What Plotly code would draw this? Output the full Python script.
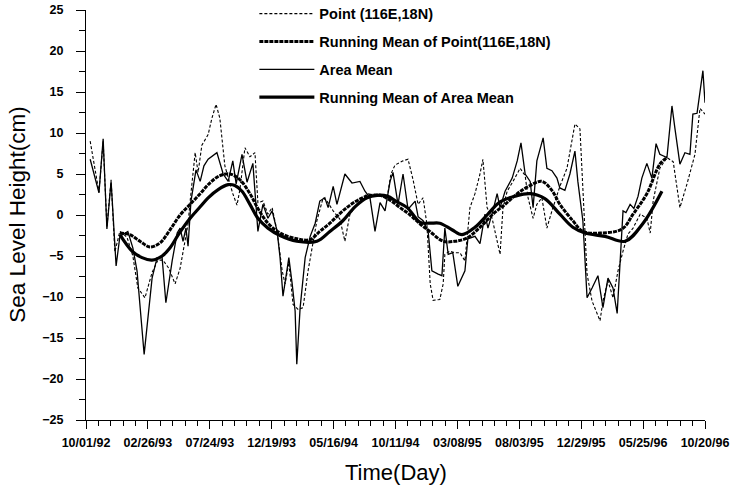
import pandas as pd
import plotly.graph_objects as go

# ---- data (days after 10/01/92, values in cm) ----
point_days = [10, 31, 41, 50, 60, 69, 81, 98, 112, 124, 141, 158, 172, 184, 198, 213, 225, 237, 244, 249,
              261, 268, 277, 292, 301, 311, 320, 332, 340, 351, 361, 368, 380, 392, 404, 411, 423, 435, 445, 457,
              469, 476, 485, 495, 507, 519, 531, 543, 552, 567, 576, 591, 607, 619, 631, 648, 672, 703, 720, 729,
              739, 758, 770, 782, 794, 806, 815, 823, 830, 846, 854, 858, 870, 882, 894, 906, 918, 930, 942, 949,
              959, 971, 978, 990, 997, 1007, 1021, 1038, 1050, 1057, 1069, 1078, 1090, 1102, 1114, 1121, 1133, 1150, 1164, 1169,
              1181, 1188, 1198, 1210, 1229, 1236, 1248, 1260, 1272, 1284, 1296, 1308, 1325, 1341, 1349, 1356, 1372, 1389, 1404, 1420,
              1437, 1456, 1468, 1480]
point_vals = [9.0, 2.8, 9.0, -1.5, 4.3, -4.5, -2.0, -2.7, -5.0, -8.9, -10.1, -7.0, -5.5, -5.5, -6.5, -8.4, -6.5, -2.8, -1.1, 1.7,
              7.6, 5.2, 8.5, 9.8, 11.8, 13.5, 11.8, 6.0, 4.5, 2.6, 1.2, 3.1, 8.2, 7.1, 7.6, 1.5, 1.7, 0.1, 0.9, -2.0,
              -6.8, -8.4, -5.8, -10.9, -11.5, -11.3, -6.8, -3.2, -0.7, 2.1, 1.7, 0.5, -0.5, -3.2, 0.1, 1.3, 2.6, 2.3, 2.1, 5.0,
              6.1, 6.6, 6.8, 4.3, 1.3, 2.1, -1.1, -8.4, -10.4, -10.3, -8.4, -4.8, -4.4, -4.6, -4.6, -5.6, 0.9, 2.6, 5.0, 6.8,
              0.9, -0.4, -2.0, -4.8, 0.9, 2.9, 4.1, 5.7, 4.8, 2.1, -0.4, 1.3, 2.1, -1.6, 0.5, 1.7, 3.5, 5.7, 9.9, 11.1,
              10.5, 2.6, -7.2, -10.5, -12.9, -10.5, -8.0, -10.1, -6.8, -4.4, -2.3, -1.6, 0.1, -0.4, -2.2, 1.7, 5.7, 7.0, 6.5, 0.9,
              3.8, 7.4, 13.0, 12.3]

point_rm_days = [81, 105, 129, 153, 177, 201, 225, 249, 273, 296, 320, 344, 368, 392, 411, 435, 464, 504, 536, 559,
                 583, 614, 643, 672, 703, 727, 751, 775, 799, 822, 854, 882, 911, 942, 973, 1002, 1031, 1062, 1090, 1114,
                 1133, 1164, 1188, 1229, 1282, 1308, 1341, 1372, 1389]
point_rm_vals = [-2.2, -2.4, -3.2, -3.9, -3.4, -1.8, 0.0, 1.3, 2.6, 3.9, 4.8, 5.0, 4.3, 2.6, 0.8, -1.0, -2.2, -2.9, -3.0, -2.0,
                 -1.0, 0.5, 1.6, 2.3, 2.4, 1.8, 0.9, 0.0, -1.1, -2.0, -3.2, -3.2, -2.8, -1.5, 0.1, 1.3, 2.6, 3.6, 4.1, 3.0,
                 1.3, -0.7, -2.0, -2.2, -1.7, 0.1, 2.6, 6.2, 7.0]

area_days = [10, 31, 41, 50, 60, 65, 72, 81, 100, 112, 122, 139, 158, 170, 182, 191, 206, 218, 225, 232,
             239, 244, 251, 263, 273, 282, 292, 313, 328, 340, 351, 359, 373, 385, 399, 411, 423, 435, 445, 457,
             464, 471, 481, 485, 493, 500, 504, 512, 524, 536, 548, 559, 571, 579, 591, 600, 619, 636, 655, 667,
             679, 691, 703, 715, 727, 734, 746, 758, 770, 787, 794, 806, 818, 827, 842, 851, 858, 866, 877, 889,
             906, 913, 930, 942, 954, 961, 973, 983, 990, 1002, 1019, 1031, 1040, 1050, 1062, 1069, 1078, 1093, 1102, 1114,
             1126, 1133, 1145, 1157, 1169, 1176, 1188, 1198, 1210, 1224, 1236, 1248, 1260, 1270, 1284, 1291, 1301, 1310, 1320, 1329,
             1341, 1353, 1363, 1372, 1389, 1401, 1408, 1420, 1432, 1444, 1451, 1461, 1475, 1480]
area_vals = [6.8, 2.7, 9.3, -1.7, 4.1, -0.4, -6.2, -2.6, -2.0, -4.0, -6.8, -17.0, -7.7, -5.2, -5.2, -10.7, -5.6, -2.2, -1.6, -3.2,
             -1.6, -3.8, 1.7, 5.5, 4.1, 6.0, 6.8, 7.6, 5.0, 4.1, 6.6, 3.8, 7.4, 4.0, 6.3, -2.0, 1.3, -0.4, 0.5, -2.0,
             -5.2, -9.9, -6.8, -5.2, -8.4, -11.7, -18.2, -11.3, -5.2, -2.6, -1.0, 1.7, 2.1, 0.9, 3.5, 1.3, 5.0, 3.9, 4.1, 2.9,
             2.1, -2.0, 1.5, 0.5, 4.1, 5.2, 1.3, 5.0, 0.7, 1.7, -0.2, -0.7, -2.0, -6.8, -7.2, -7.4, -1.6, -4.8, -4.6, -8.7,
             -6.8, -2.9, -2.6, -3.5, 0.1, -1.6, 0.5, 2.6, 0.9, 2.9, 4.5, 6.6, 8.8, 5.0, 4.1, 0.9, 6.6, 9.4, 5.7, 5.4,
             4.5, 3.3, 3.0, 5.0, 7.8, 4.1, -0.7, -10.1, -8.9, -7.4, -11.3, -7.7, -8.9, -12.0, 0.5, 0.3, 1.3, 0.8, 2.3, 4.5,
             6.3, 4.5, 8.7, 7.4, 7.0, 13.3, 10.6, 6.2, 7.6, 7.4, 12.3, 12.4, 17.6, 13.7]

area_rm_days = [81, 110, 134, 158, 182, 201, 222, 249, 273, 292, 316, 340, 356, 373, 392, 411, 435, 464, 504, 552,
                583, 614, 643, 672, 696, 720, 744, 768, 799, 822, 846, 875, 899, 930, 959, 990, 1026, 1062, 1097, 1133,
                1164, 1193, 1241, 1289, 1332, 1377]
area_rm_vals = [-2.4, -4.4, -5.2, -5.5, -5.0, -4.0, -2.3, -0.4, 1.0, 2.1, 3.1, 3.7, 3.6, 2.9, 1.3, -0.4, -1.6, -2.5, -3.2, -3.2,
                -2.0, -0.7, 1.0, 2.1, 2.4, 2.3, 1.6, 0.9, -0.9, -1.0, -1.0, -1.8, -2.4, -1.5, 0.0, 1.6, 2.3, 2.6, 2.0, 0.1,
                -1.5, -2.2, -2.6, -3.2, -1.0, 2.9]

tick_dates = ["1992-10-01", "1993-02-26", "1993-07-24", "1993-12-19", "1994-05-16", "1994-10-11",
              "1995-03-08", "1995-08-03", "1995-12-29", "1996-05-25", "1996-10-20"]
tick_labels = ["10/01/92", "02/26/93", "07/24/93", "12/19/93", "05/16/94", "10/11/94",
               "03/08/95", "08/03/95", "12/29/95", "05/25/96", "10/20/96"]
y_ticks = [-25, -20, -15, -10, -5, 0, 5, 10, 15, 20, 25]

base = pd.Timestamp("1992-10-01")


def to_dates(days):
    return base + pd.to_timedelta(days, unit="D")


fig = go.Figure()
fig.add_trace(go.Scatter(x=to_dates(point_days), y=point_vals, mode="lines",
                         name="Point (116E,18N)", legendgroup="a",
                         line=dict(color="black", width=1.1, dash="3px,2px")))
fig.add_trace(go.Scatter(x=to_dates(point_rm_days), y=point_rm_vals, mode="lines",
                         name="Running Mean of Point(116E,18N)", legendgroup="b",
                         line=dict(color="black", width=3, dash="4px,1px", shape="spline")))
fig.add_trace(go.Scatter(x=to_dates(area_days), y=area_vals, mode="lines",
                         name="Area Mean", legendgroup="c",
                         line=dict(color="black", width=1.3)))
fig.add_trace(go.Scatter(x=to_dates(area_rm_days), y=area_rm_vals, mode="lines",
                         name="Running Mean of Area Mean", legendgroup="d",
                         line=dict(color="black", width=3.2, shape="spline")))

font_main = "Liberation Sans, Arial, sans-serif"

fig.update_layout(
    width=731, height=494,
    margin=dict(l=86, r=26, t=10, b=74, autoexpand=False),
    paper_bgcolor="white", plot_bgcolor="white",
    font=dict(family=font_main, color="black"),
    showlegend=True,
    legend=dict(x=0.272, y=1.03, xanchor="left", yanchor="top",
                bgcolor="rgba(0,0,0,0)", tracegroupgap=6, itemwidth=55,
                font=dict(family=font_main, size=14.5, color="black", weight="bold")),
    xaxis=dict(type="date", range=[base, pd.Timestamp("1996-10-20")], automargin=False,
               tickvals=tick_dates, ticktext=tick_labels,
               showline=True, linecolor="black", linewidth=1.2,
               ticks="outside", ticklen=8, tickwidth=1.2, tickcolor="black",
               ticklabelstandoff=3,
               tickfont=dict(family=font_main, size=12.5, color="black", weight="bold"),
               minor=dict(tick0="1992-10-01", dtick=29.6 * 86400000, ticks="outside",
                          ticklen=5, tickwidth=1.1, tickcolor="black", showgrid=False),
               showgrid=False, zeroline=False),
    yaxis=dict(range=[-25, 25], tickvals=y_ticks, automargin=False,
               showline=True, linecolor="black", linewidth=1.2,
               ticks="outside", ticklen=9, tickwidth=1.2, tickcolor="black",
               ticklabelstandoff=10,
               tickfont=dict(family=font_main, size=12.5, color="black", weight="bold"),
               minor=dict(dtick=2.5, ticks="outside", ticklen=6, tickwidth=1.1,
                          tickcolor="black", showgrid=False),
               showgrid=False, zeroline=False),
    annotations=[
        dict(text="Sea Level Height(cm)", xref="paper", yref="paper", x=-0.112, y=0.5,
             xanchor="center", yanchor="middle", textangle=-90, showarrow=False,
             font=dict(family=font_main, size=22.5, color="black")),
        dict(text="Time(Day)", xref="paper", yref="paper", x=0.5, y=-0.127,
             xanchor="center", yanchor="middle", showarrow=False,
             font=dict(family=font_main, size=22, color="black")),
    ],
)

fig.write_html("out.html", config={"displayModeBar": False},
               post_script="document.body.style.margin='0px';")
